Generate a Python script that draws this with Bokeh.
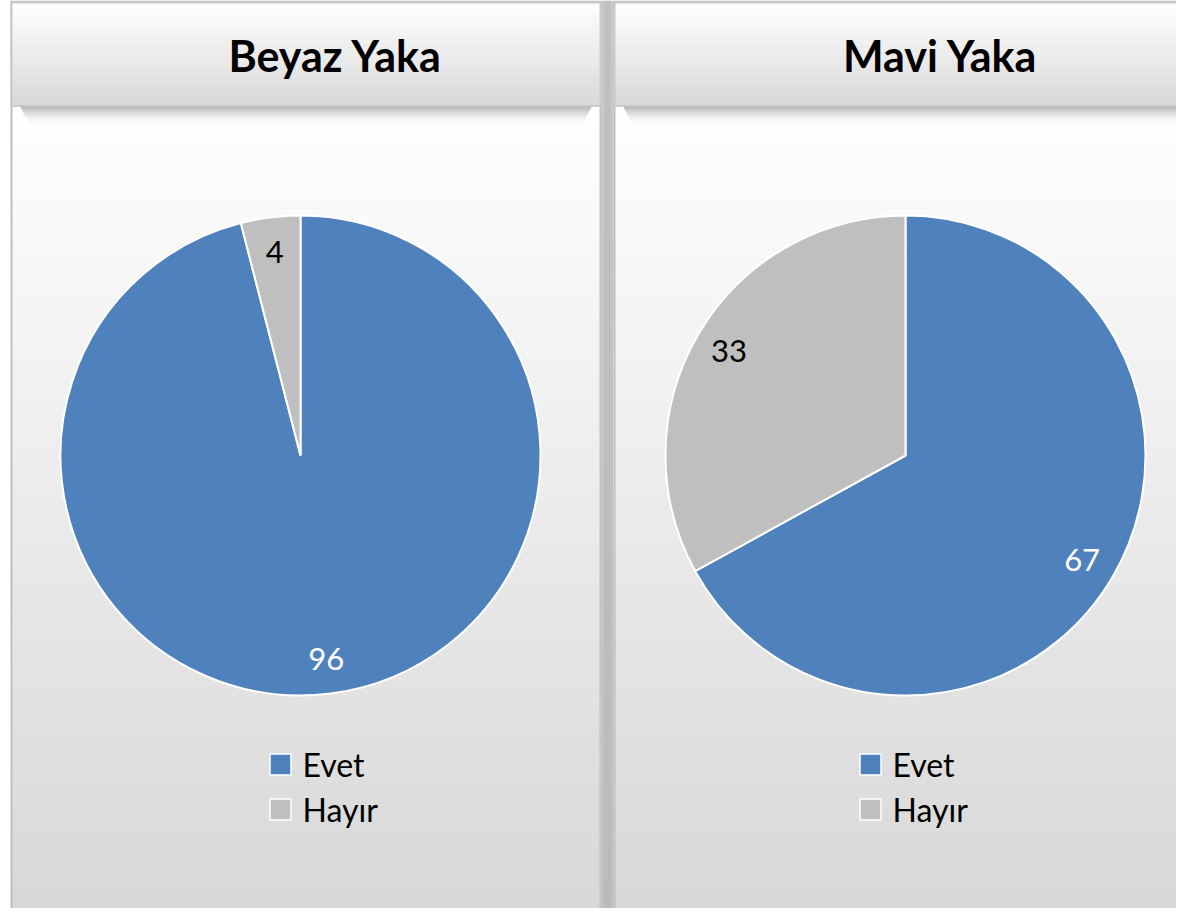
import numpy as np
from bokeh.plotting import figure
from bokeh.models import Range1d, ColumnDataSource
from bokeh.core.properties import value
from bokeh.embed import file_html
from bokeh.resources import INLINE

# ---- data ----
panel_titles = ["Beyaz Yaka", "Mavi Yaka"]
categories = ["Evet", "Hayır"]
beyaz_values = [96, 4]
mavi_values = [67, 33]
slice_colors = ["#4F81BD", "#BFBFBF"]
label_colors = ["#FFFFFF", "#000000"]

FONT = "Lato"
W, H = 1176, 908


def Y(yref):
    return 924 - yref


p = figure(width=W, height=H, x_range=Range1d(0, W), y_range=Range1d(924 - H, 924),
           output_backend="svg", toolbar_location=None, min_border=0,
           x_axis_type=None, y_axis_type=None)
p.grid.visible = False
p.outline_line_color = None
p.background_fill_color = "#FFFFFF"
p.border_fill_color = "#FFFFFF"


def lerp_hex(c0, c1, t):
    a = np.array([int(c0[i:i + 2], 16) for i in (1, 3, 5)], float)
    b = np.array([int(c1[i:i + 2], 16) for i in (1, 3, 5)], float)
    c = a + (b - a) * t
    return "#%02x%02x%02x" % tuple(int(round(v)) for v in c)


def gradient(x0, x1, ytop, ybot, ctop, cbot, n=60):
    edges = np.linspace(ytop, ybot, n + 1)
    cols = [lerp_hex(ctop, cbot, (i + 0.5) / n) for i in range(n)]
    p.quad(left=[x0] * n, right=[x1] * n, top=[Y(e) for e in edges[:-1]],
           bottom=[Y(e) - 0.5 for e in edges[1:]], fill_color=cols, line_color=None)


panels = [
    dict(x0=10, x1=601, title=panel_titles[0], values=beyaz_values, cx=300, tx=335, lx=280),
    dict(x0=613, x1=1196, title=panel_titles[1], values=mavi_values, cx=905, tx=940, lx=870),
]

# gap between panels
gradient(601, 613, 0, 924, "#C8C8C8", "#BDBDBD", n=20)
p.quad(left=[604], right=[610], top=[Y(0)], bottom=[Y(924)], fill_color="#B8B8B8", line_color=None, fill_alpha=0.5)

R = 240
CY = 455

for pn in panels:
    x0, x1 = pn["x0"], pn["x1"]
    # outer border
    p.quad(left=[x0], right=[x1], top=[Y(0)], bottom=[Y(923)], fill_color="#BFBFBF", line_color=None)
    # body gradient
    gradient(x0 + 2, x1 - 2, 106, 920, "#FFFFFF", "#D7D7D7", n=80)
    # header shadow
    for k in range(20):
        t = k / 20
        p.quad(left=[x0 + 2 + 10 * t + 8], right=[x1 - 2 - 10 * t - 8], top=[Y(106 + k)], bottom=[Y(107 + k)],
               fill_color="#000000", fill_alpha=0.30 * (1 - t) ** 2, line_color=None)
    # header
    p.quad(left=[x0], right=[x1], top=[Y(1)], bottom=[Y(106)], fill_color="#C8C8C8", line_color=None)
    gradient(x0 + 2, x1 - 2, 3, 104, "#FFFFFF", "#D9D9D9", n=40)
    p.text(x=[pn["tx"]], y=[Y(55)], text=[pn["title"]], text_font=value(FONT), text_font_style="bold",
           text_font_size="43px", text_align="center", text_baseline="middle", text_color="#000000")

    # pie
    vals = np.array(pn["values"], float)
    frac = vals / vals.sum()
    cum = np.concatenate([[0], np.cumsum(frac)])
    starts = np.pi / 2 - 2 * np.pi * cum[:-1]
    ends = np.pi / 2 - 2 * np.pi * cum[1:]
    cx = pn["cx"]
    src = ColumnDataSource(dict(start=starts, end=ends, color=slice_colors, cat=categories))
    p.wedge(x=cx, y=Y(CY), radius=R, start_angle="start", end_angle="end", direction="clock",
            fill_color="color", line_color="#FFFFFF", line_width=2, source=src)
    mids = (starts + ends) / 2
    lr = 0.855 * R
    p.text(x=cx + lr * np.cos(mids), y=Y(CY) + lr * np.sin(mids), text=[str(int(v)) for v in pn["values"]],
           text_font=value(FONT), text_font_size="31px", text_align="center", text_baseline="middle",
           text_color=label_colors)

    # legend
    ly = [764, 809]
    p.scatter(x=[pn["lx"]] * 2, y=[Y(v) for v in ly], marker="square", size=21,
              fill_color=slice_colors, line_color="#FFFFFF", line_width=1.5)
    p.text(x=[pn["lx"] + 22] * 2, y=[Y(v) for v in ly], text=categories, text_font=value(FONT),
           text_font_size="32px", text_align="left", text_baseline="middle", text_color="#000000")

open("out.html", "w").write(file_html(p, INLINE))
